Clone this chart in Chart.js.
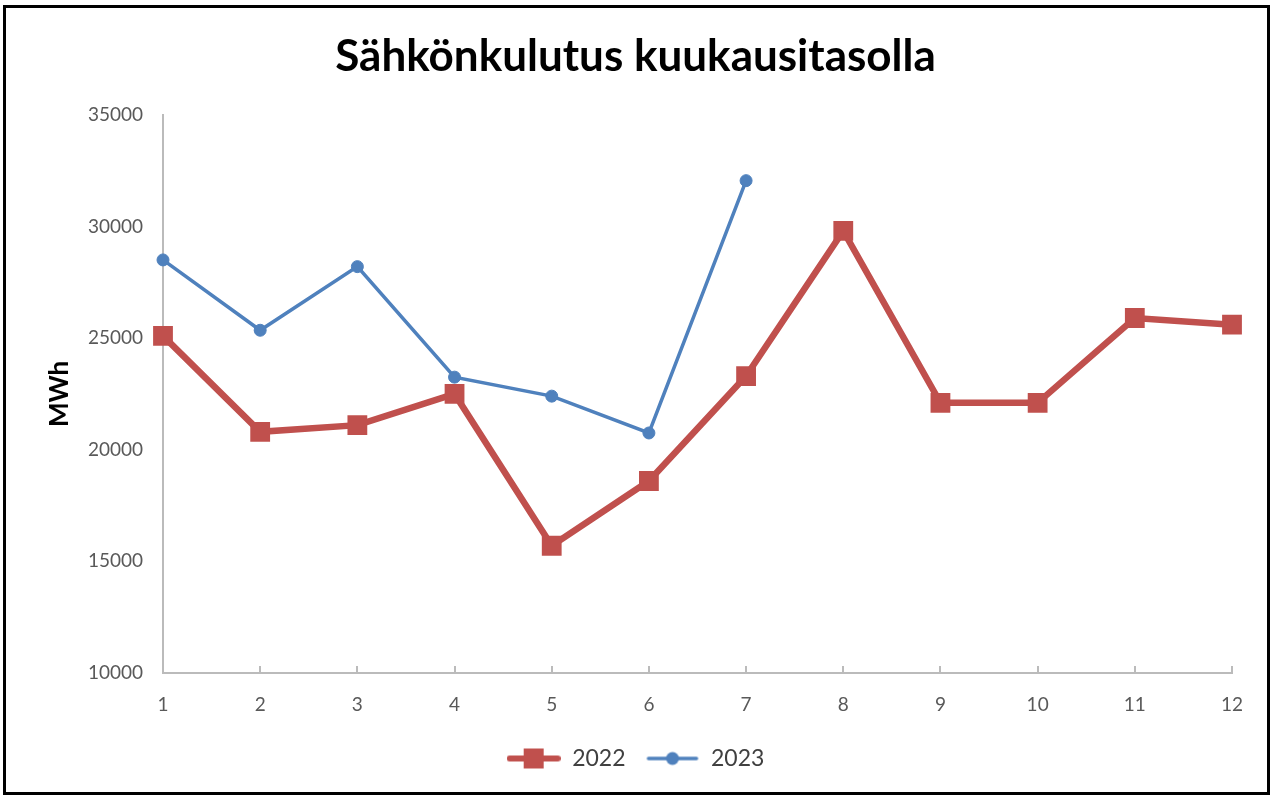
<!DOCTYPE html>
<html>
<head>
<meta charset="utf-8">
<script src="https://cdn.jsdelivr.net/npm/chart.js@4.4.0/dist/chart.umd.min.js"></script>
<style>
  body { margin: 0; background: #fff; }
  canvas { position: absolute; left: 0; top: 0; }
  #frame {
    position: absolute; left: 3px; top: 5px; width: 1267px; height: 790px;
    border: 3px solid #000; box-sizing: border-box; pointer-events: none;
  }
</style>
</head>
<body>
<canvas id="myChart" width="1271" height="796"></canvas>
<div id="frame"></div>
<script>
var months = ['1', '2', '3', '4', '5', '6', '7', '8', '9', '10', '11', '12'];
var kulutus2022 = [25100, 20800, 21100, 22500, 15700, 18600, 23300, 29800, 22100, 22100, 25900, 25600];
var kulutus2023 = [28500, 25350, 28200, 23250, 22400, 20750, 32050];
var yMin = 10000;
var yMax = 35000;
var yStep = 5000;

var RED = '#C0504D';
var BLUE = '#4F81BD';
var FONT = 'Lato, "Open Sans", sans-serif';

// small line + marker pictures for the legend
function legendIcon(color, lineWidth, square) {
  var c = document.createElement('canvas');
  c.width = 54;
  c.height = 22;
  var g = c.getContext('2d');
  g.strokeStyle = color;
  g.lineWidth = lineWidth;
  g.lineCap = 'round';
  g.beginPath();
  g.moveTo(3, 11);
  g.lineTo(51, 11);
  g.stroke();
  g.fillStyle = color;
  if (square) {
    g.fillRect(17, 1, 20, 20);
  } else {
    g.beginPath();
    g.arc(27, 11, 6.5, 0, Math.PI * 2);
    g.fill();
  }
  return c;
}

// x ticks in Excel style point up into the plot
var innerTicks = {
  id: 'innerTicks',
  afterDatasetsDraw: function (chart) {
    var x = chart.scales.x;
    var ctx = chart.ctx;
    var bottom = chart.chartArea.bottom;
    ctx.save();
    ctx.strokeStyle = '#BBBBBB';
    ctx.lineWidth = 2;
    for (var i = 1; i < months.length; i++) {
      var px = Math.round(x.getPixelForTick(i));
      ctx.beginPath();
      ctx.moveTo(px, bottom);
      ctx.lineTo(px, bottom - 7);
      ctx.stroke();
    }
    ctx.restore();
  }
};

window.onload = function () {
  var ctx = document.getElementById('myChart');
  var myChart = new Chart(ctx, {
    type: 'line',
    data: {
      labels: months,
      datasets: [{
        label: '2022',
        data: kulutus2022,
        borderColor: RED,
        backgroundColor: RED,
        borderWidth: 6.5,
        pointStyle: 'rect',
        pointRadius: 14,
        pointBorderWidth: 0,
        tension: 0,
        order: 1
      }, {
        label: '2023',
        data: kulutus2023,
        borderColor: BLUE,
        backgroundColor: BLUE,
        borderWidth: 3.5,
        pointStyle: 'circle',
        pointRadius: 6,
        pointBorderWidth: 1,
        tension: 0,
        order: 0
      }]
    },
    options: {
      responsive: false,
      animation: false,
      layout: {
        padding: { left: 39, right: 39, top: 0, bottom: 16 }
      },
      plugins: {
        tooltip: { enabled: false },
        title: {
          display: true,
          text: 'Sähkönkulutus kuukausitasolla',
          color: '#000',
          font: { family: FONT, size: 44, weight: 'bold' },
          padding: { top: 30, bottom: 32 }
        },
        legend: {
          position: 'bottom',
          labels: {
            usePointStyle: true,
            pointStyleWidth: 54,
            boxHeight: 20,
            padding: 20,
            color: '#404040',
            font: { family: FONT, size: 23 },
            generateLabels: function (chart) {
              return [
                { text: '2022', pointStyle: legendIcon(RED, 6, true), fillStyle: RED, strokeStyle: RED, lineWidth: 0, datasetIndex: 0, hidden: false, fontColor: '#404040' },
                { text: '2023', pointStyle: legendIcon(BLUE, 3.5, false), fillStyle: BLUE, strokeStyle: BLUE, lineWidth: 0, datasetIndex: 1, hidden: false, fontColor: '#404040' }
              ];
            }
          }
        }
      },
      scales: {
        x: {
          offset: false,
          grid: { display: false },
          border: { display: true, color: '#BBBBBB', width: 2 },
          ticks: {
            color: '#595959',
            padding: 12,
            maxRotation: 0,
            font: { family: FONT, size: 19 }
          },
          afterFit: function (scale) { scale.height = 54; }
        },
        y: {
          min: yMin,
          max: yMax,
          grid: { display: false, drawTicks: false },
          border: { display: true, color: '#BBBBBB', width: 2 },
          ticks: {
            stepSize: yStep,
            color: '#595959',
            padding: 20,
            font: { family: FONT, size: 19 },
            callback: function (v) { return String(v); }
          },
          title: {
            display: true,
            text: 'MWh',
            color: '#000',
            font: { family: FONT, size: 26, weight: 'bold' },
            padding: { top: 5, bottom: 0 }
          },
          afterFit: function (scale) { scale.width = 124; }
        }
      }
    },
    plugins: [innerTicks]
  });
};
</script>
</body>
</html>
